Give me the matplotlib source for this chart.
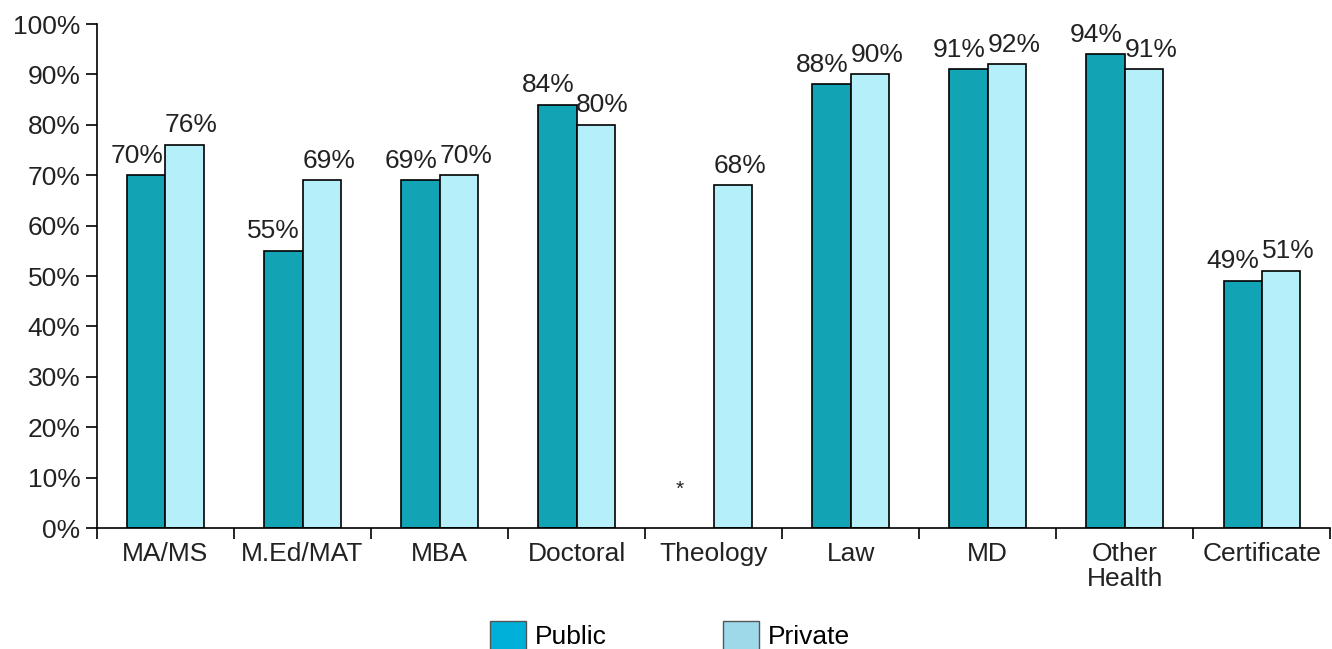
import numpy as np
import matplotlib.pyplot as plt
from matplotlib.patches import Patch

plt.rcParams['font.family'] = ['Liberation Sans', 'DejaVu Sans']

categories = ['MA/MS', 'M.Ed/MAT', 'MBA', 'Doctoral', 'Theology', 'Law', 'MD', 'Other\nHealth', 'Certificate']
public = [70, 55, 69, 84, np.nan, 88, 91, 94, 49]
private = [76, 69, 70, 80, 68, 90, 92, 91, 51]

fs = 19
txt = '#222222'

fig = plt.figure(figsize=(13.32, 6.49), dpi=100)
ax = fig.add_axes([0.0728, 0.1864, 0.926, 0.7766])

x = np.arange(len(categories))
w = 0.28
ax.bar(x - w / 2, public, w, color='#12A3B5', edgecolor='black', linewidth=1.2)
ax.bar(x + w / 2, private, w, color='#B5F0FA', edgecolor='black', linewidth=1.2)

for i in range(len(categories)):
    if np.isnan(public[i]):
        ax.text(i - 0.25, 5.8, '*', ha='center', va='bottom', fontsize=15, color=txt)
    else:
        ax.text(i - w / 2 - 0.07, public[i] + 1.5, '%d%%' % public[i], ha='center', va='bottom',
                fontsize=fs, color=txt)
    ax.text(i + w / 2 + 0.05, private[i] + 1.5, '%d%%' % private[i], ha='center', va='bottom',
            fontsize=fs, color=txt)

ax.set_xlim(-0.5, len(categories) - 0.5)
ax.set_ylim(0, 100)
ax.set_yticks(range(0, 101, 10))
ax.set_yticklabels(['%d%%' % v for v in range(0, 101, 10)], fontsize=fs, color=txt)
ax.set_xticks(np.arange(-0.5, len(categories), 1.0))
ax.set_xticklabels([])
ax.set_xticks(x, minor=True)
ax.set_xticklabels(categories, minor=True, fontsize=fs, color=txt, linespacing=1.05, va='top')
ax.tick_params(axis='x', which='minor', length=0, pad=10)
ax.tick_params(axis='x', which='major', length=8, width=1.2, direction='out')
ax.tick_params(axis='y', length=8, width=1.2, direction='out', pad=4)
for s in ['top', 'right']:
    ax.spines[s].set_visible(False)
ax.spines['left'].set_linewidth(1.2)
ax.spines['bottom'].set_linewidth(1.2)

handles = [Patch(facecolor='#00B0D8', edgecolor='#555555', label='Public'),
           Patch(facecolor='#9ED9EA', edgecolor='#555555', label='Private')]
fig.legend(handles=handles, loc='lower center', bbox_to_anchor=(0.503, -0.038), ncol=2, frameon=False,
           fontsize=fs, handlelength=1.35, handleheight=1.3, columnspacing=4.4, handletextpad=0.35)

fig.savefig('out.png', dpi=100)
